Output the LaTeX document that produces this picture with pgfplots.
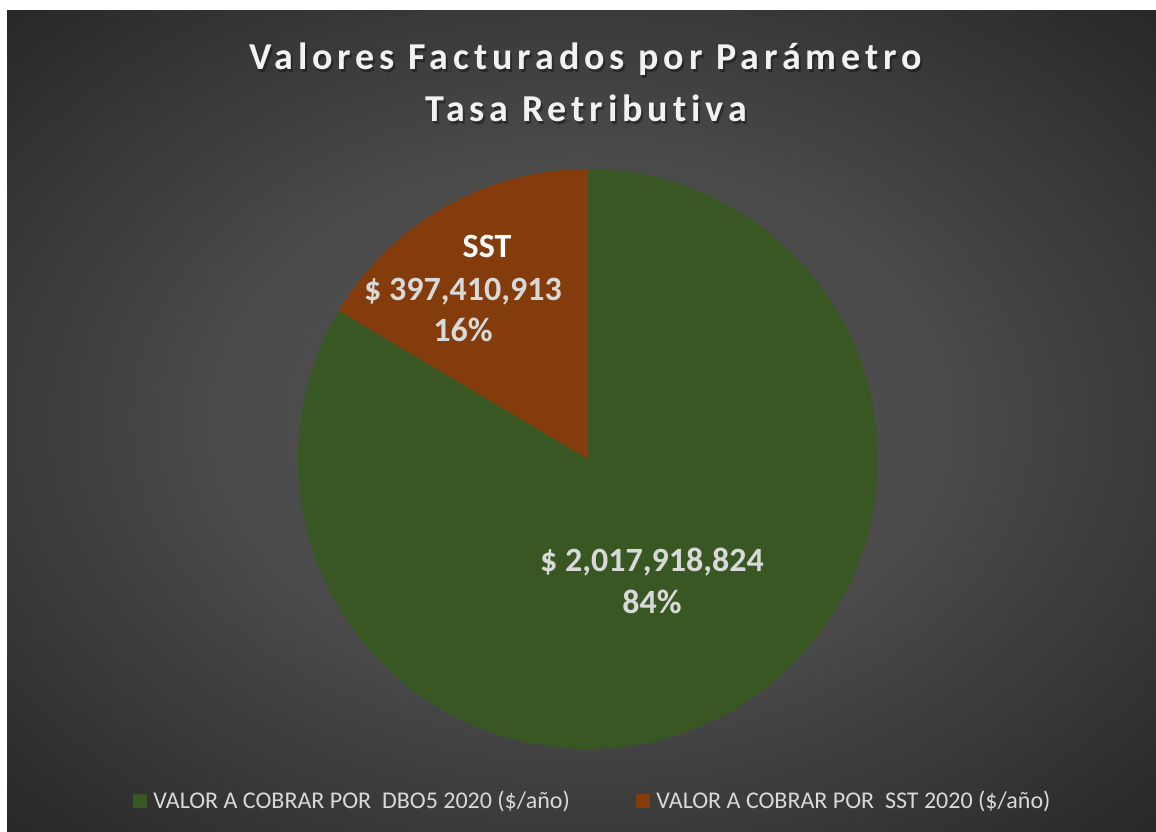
\documentclass[border=0pt]{standalone}
\usepackage{pgfplots}
\pgfplotsset{compat=1.18}
\usepackage{fontspec}
\setmainfont{Carlito}
\newfontfamily\titlefont[LetterSpace=13, Ligatures={NoCommon}]{Carlito}
\definecolor{dbo}{HTML}{385723}
\definecolor{sst}{HTML}{843C0C}
\definecolor{lbl}{HTML}{D9D9D9}
\definecolor{ttl}{HTML}{F2F2F2}
\definecolor{bgA}{HTML}{525252}
\definecolor{bgB}{HTML}{4A4A4A}
\definecolor{bgC}{HTML}{3A3A3A}
\definecolor{bgD}{HTML}{272727}
\pgfdeclareradialshading{bgshade}{\pgfpoint{0bp}{0bp}}{color(0bp)=(bgA); color(16bp)=(bgB); color(25bp)=(bgC); color(36bp)=(bgD); color(50bp)=(bgD)}
% values in millions of $
\def\valDBO{2017.918824}
\def\valSST{397.410913}
\tikzset{ttlstyle/.style={anchor=base, inner sep=0, font=\titlefont\bfseries\fontsize{19}{22}\selectfont},
  lblstyle/.style={anchor=base, inner sep=0, font=\bfseries\fontsize{17}{20}\selectfont}}
\begin{document}
\begin{tikzpicture}
\begin{axis}[x=0.5pt, y=0.5pt, xmin=0, xmax=1156, ymin=0, ymax=831,
  hide axis, clip=false, scale only axis]
\pgfmathsetmacro{\fracDBO}{\valDBO/(\valDBO+\valSST)}
\pgfmathsetmacro{\angEnd}{90-360*\fracDBO}
\fill[white] (axis cs:0,0) rectangle (axis cs:1156,831);
\shade[shading=bgshade] (axis cs:7,0) rectangle (axis cs:1156,820);
% pie
\fill[dbo] (axis cs:588,372) -- ++(90:145pt) arc[start angle=90, end angle=\angEnd, radius=145pt] -- cycle;
\fill[sst] (axis cs:588,372) -- ++(\angEnd:145pt) arc[start angle=\angEnd, end angle=-270, radius=145pt] -- cycle;
% title shadow
\node[ttlstyle, text=black, opacity=0.35] at (axis cs:587.5,758) {Valores Facturados por Parámetro};
\node[ttlstyle, text=black, opacity=0.35] at (axis cs:588,706) {Tasa Retributiva};
% title
\node[ttlstyle, text=ttl] at (axis cs:585.5,761) {Valores Facturados por Parámetro};
\node[ttlstyle, text=ttl] at (axis cs:586,709) {Tasa Retributiva};
% data labels
\node[lblstyle, text=white] at (axis cs:487,573) {SST};
\node[lblstyle, text=lbl] at (axis cs:463,530) {\$ 397,410,913};
\node[lblstyle, text=lbl] at (axis cs:463,489) {16\%};
\node[lblstyle, text=lbl] at (axis cs:652,260) {\$ 2,017,918,824};
\node[lblstyle, text=lbl] at (axis cs:652,218) {84\%};
% legend
\fill[dbo] (axis cs:133,23) rectangle (axis cs:147,37);
\node[anchor=base west, inner sep=0, text=lbl, font=\fontsize{12}{14}\selectfont] at (axis cs:153,23) {VALOR A COBRAR POR\ \ DBO5 2020 (\$/año)};
\fill[sst] (axis cs:636,23) rectangle (axis cs:650,37);
\node[anchor=base west, inner sep=0, text=lbl, font=\fontsize{12}{14}\selectfont] at (axis cs:656,23) {VALOR A COBRAR POR\ \ SST 2020 (\$/año)};
\end{axis}
\end{tikzpicture}
\end{document}
